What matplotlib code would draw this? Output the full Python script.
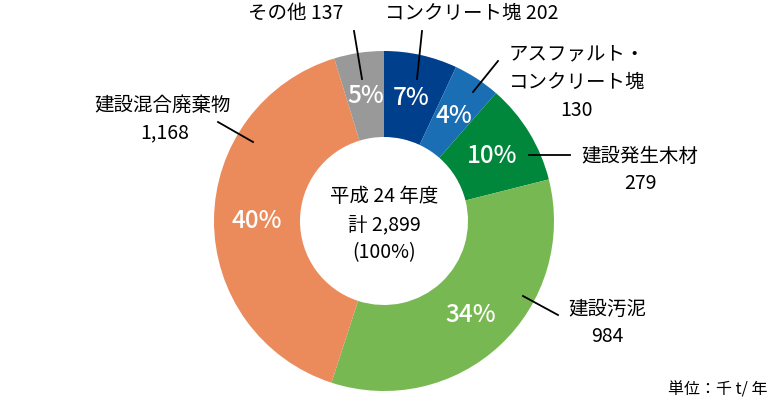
import numpy as np
import matplotlib.pyplot as plt

plt.rcParams['font.family'] = ['Noto Sans CJK JP', 'DejaVu Sans']

# データ（千t/年）
categories = ['コンクリート塊', 'アスファルト・\nコンクリート塊', '建設発生木材',
              '建設汚泥', '建設混合廃棄物', 'その他']
values = [202, 130, 279, 984, 1168, 137]
value_labels = ['202', '130', '279', '984', '1,168', '137']
pct_labels = ['7%', '4%', '10%', '34%', '40%', '5%']
colors = ['#003f8c', '#1a6fb4', '#00873c', '#77b852', '#eb8b5c', '#999999']

W, H = 770, 402
cx, cy = 384, 222
r_out, r_in = 170, 84
fs = 14


def Y(y):
    # ピクセル座標（上から）を軸座標へ
    return H - y


fig = plt.figure(figsize=(W / 100, H / 100), dpi=100)
ax = fig.add_axes([0, 0, 1, 1])

wedges, _ = ax.pie(values, colors=colors, startangle=90, counterclock=False,
                   radius=r_out, center=(cx, Y(cy)),
                   wedgeprops=dict(width=r_out - r_in, linewidth=0))

ax.set_xlim(0, W)
ax.set_ylim(0, H)
ax.axis('off')

# パーセント
r_mid = (r_out + r_in) / 2
for w, p in zip(wedges, pct_labels):
    a = np.deg2rad((w.theta1 + w.theta2) / 2)
    ax.text(cx + r_mid * np.cos(a), Y(cy) + r_mid * np.sin(a), p,
            color='white', fontsize=17.5, fontweight='medium',
            ha='center', va='center')

# 中央
ax.text(cx, Y(197), '平成 24 年度', fontsize=fs, ha='center', va='center')
ax.text(cx, Y(225), '計 2,899', fontsize=fs, ha='center', va='center')
ax.text(cx, Y(253), '(100%)', fontsize=fs, ha='center', va='center')

# ラベル位置と引出線
name_pos = [(472, 13), (577, 68), (640, 156), (607, 309), (163, 105), (296, 13)]
value_pos = [None, (577, 110), (640, 184), (607, 337), (165, 133), None]
leaders = [((422, 32), (417, 80)), ((498, 62), (473, 93)), ((529, 156), (570, 156)),
           ((523, 297), (558, 316)), ((218, 123), (253, 143)), ((354, 32), (362, 80))]

for i, name in enumerate(categories):
    nx, ny = name_pos[i]
    if value_pos[i] is None:
        ax.text(nx, Y(ny), name + ' ' + value_labels[i], fontsize=fs,
                ha='center', va='center')
    else:
        ax.text(nx, Y(ny), name, fontsize=fs, ha='center', va='center',
                linespacing=1.4)
        vx, vy = value_pos[i]
        ax.text(vx, Y(vy), value_labels[i], fontsize=fs, ha='center', va='center')
    (x1, y1), (x2, y2) = leaders[i]
    ax.plot([x1, x2], [Y(y1), Y(y2)], color='black', lw=1.3)

ax.text(718, Y(390), '単位：千 t/ 年', fontsize=11.5, ha='center', va='center')

fig.savefig('out.png', dpi=100)
